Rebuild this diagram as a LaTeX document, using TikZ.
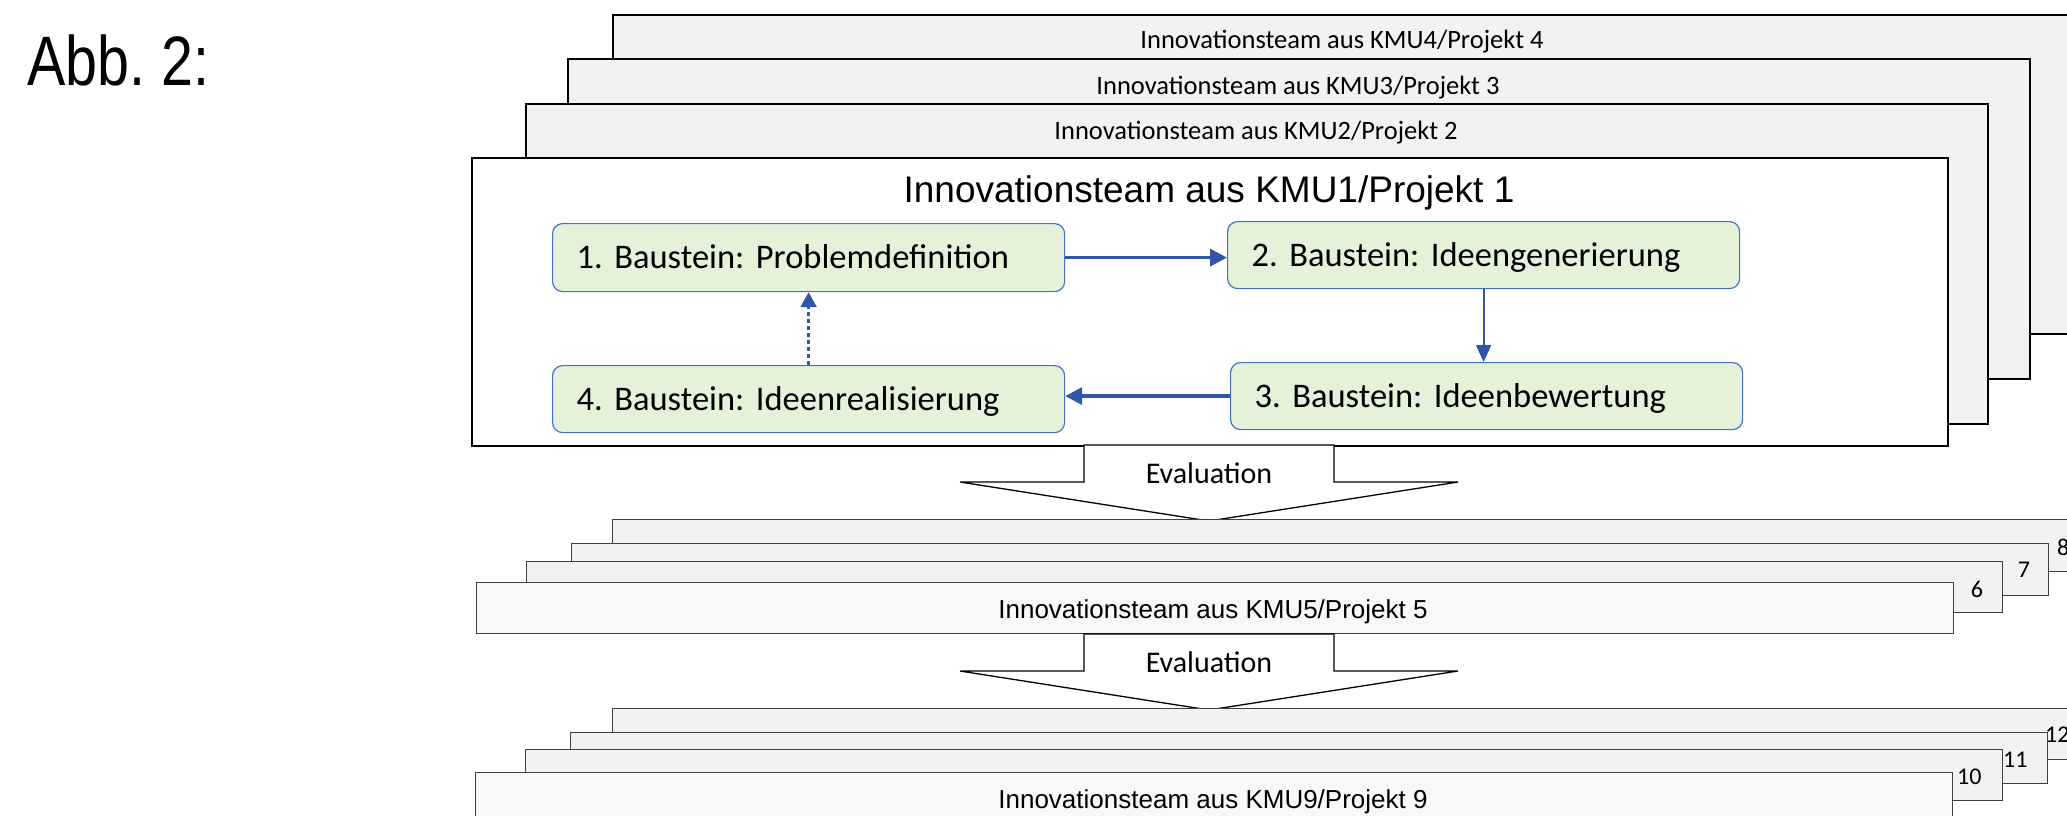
\documentclass[tikz,border=0pt]{standalone}
\usepackage{fontspec}
\setmainfont{Carlito}
\newfontfamily\arialf{Liberation Sans}
\newfontfamily\narrowf[FakeStretch=0.82]{Liberation Sans}
\usetikzlibrary{arrows.meta}
\definecolor{stripfill}{HTML}{F2F2F2}
\definecolor{frontfill}{HTML}{F8F8F8}
\definecolor{greenfill}{HTML}{E5F2DA}
\definecolor{boxblue}{HTML}{4472C4}
\definecolor{arrblue}{HTML}{3155A8}
\definecolor{darkline}{HTML}{404040}
\frenchspacing
\begin{document}
\begin{tikzpicture}[x=1pt,y=-1pt,
  topstrip/.style={draw=black, line width=2.2pt, fill=stripfill, inner sep=0pt, anchor=north west},
  lowstrip/.style={draw=darkline, line width=1.3pt, fill=stripfill, inner sep=0pt, anchor=north west},
  stepbox/.style={draw=boxblue, line width=1.2pt, fill=greenfill, rounded corners=10pt,
     anchor=north west, minimum height=67pt, text width=464pt, align=left,
     inner xsep=24pt, inner ysep=0pt, text height=22pt, text depth=0pt,
     font=\fontsize{34.5}{40}\selectfont\frenchspacing},
  striptitle/.style={anchor=base, inner sep=0pt, font=\fontsize{26.5}{32}\selectfont},
  numlabel/.style={inner sep=0pt, font=\fontsize{24}{28}\selectfont},
  evaltext/.style={anchor=base, inner sep=0pt, font=\fontsize{30}{36}\selectfont},
  arialtitle/.style={anchor=base, inner sep=0pt, font=\arialf\fontsize{26}{31}\selectfont},
  flow/.style={draw=arrblue, line width=3.5pt, -{Triangle[length=17pt,width=17pt]}},
  flowthin/.style={draw=arrblue, line width=2pt, -{Triangle[length=17pt,width=15pt]}},
  flowdot/.style={draw=arrblue, line width=2.5pt, dash pattern=on 4pt off 3pt, -{Triangle[length=15pt,width=16pt]}},
  evalarrow/.style={draw=black, line width=1.3pt, fill=white, line join=miter}
]
\useasboundingbox (0,0) rectangle (2067,815);
\clip (0,0) rectangle (2067,815);

% heading
\node[anchor=base west, inner sep=0pt, font=\narrowf\fontsize{70}{84}\selectfont] (abb) at (27,85) {Abb. 2:};

% top stack
\node[topstrip, minimum width=1460pt, minimum height=319pt] (k4) at (612,14) {};
\node[striptitle] (t4) at (1342,48) {Innovationsteam aus KMU4/Projekt 4};
\node[topstrip, minimum width=1462pt, minimum height=320pt] (k3) at (567,58) {};
\node[striptitle] (t3) at (1298,94) {Innovationsteam aus KMU3/Projekt 3};
\node[topstrip, minimum width=1462pt, minimum height=320pt] (k2) at (525,103) {};
\node[striptitle] (t2) at (1256,139) {Innovationsteam aus KMU2/Projekt 2};
\node[topstrip, fill=white, minimum width=1476pt, minimum height=288pt] (k1) at (471,157) {};
\node[anchor=base, inner sep=0pt, font=\arialf\fontsize{37}{44}\selectfont] (t1) at (1209,202) {Innovationsteam aus KMU1/Projekt 1};

% building blocks
\node[stepbox, minimum height=68pt] (b1) at (552,223) {1. Baustein: Problemdefinition};
\node[stepbox] (b2) at (1227,221) {2. Baustein: Ideengenerierung};
\node[stepbox] (b3) at (1230,362) {3. Baustein: Ideenbewertung};
\node[stepbox] (b4) at (552,365) {4. Baustein: Ideenrealisierung};

\draw[flow] (b1.east) -- (b1.east -| b2.west);
\draw[flowthin] (b2.south) -- (b2.south |- b3.north);
\draw[flow] (b3.west) -- (b3.west -| b4.east);
\draw[flowdot] (b4.north) -- (b1.south);

% first evaluation arrow
\draw[evalarrow] (1084,445) -- (1084,482) -- (960,482) -- (1209,521) -- (1458,482) -- (1334,482) -- (1334,445) -- cycle;
\node[evaltext] (e1) at (1209,483) {Evaluation};

% second stack
\node[lowstrip, minimum width=1490pt, minimum height=52pt] (k8) at (612,519) {};
\node[lowstrip, minimum width=1477pt, minimum height=52pt] (k7) at (571,543) {};
\node[lowstrip, minimum width=1476pt, minimum height=51pt] (k6) at (526,561) {};
\node[lowstrip, fill=frontfill, minimum width=1477pt, minimum height=51pt] (k5) at (476,582) {};
\node[arialtitle] (t5) at (1213,618) {Innovationsteam aus KMU5/Projekt 5};
\node[numlabel] (n6) at (1977,589) {6};
\node[numlabel] (n7) at (2024,570) {7};
\node[numlabel, anchor=west] (n8) at (2057,547) {8};

% second evaluation arrow
\draw[evalarrow] (1084,634) -- (1084,671) -- (960,671) -- (1209,710) -- (1458,671) -- (1334,671) -- (1334,634) -- cycle;
\node[evaltext] (e2) at (1209,672) {Evaluation};

% third stack
\node[lowstrip, minimum width=1490pt, minimum height=51pt] (k12) at (612,708) {};
\node[lowstrip, minimum width=1477pt, minimum height=51pt] (k11) at (570,732) {};
\node[lowstrip, minimum width=1477pt, minimum height=51pt] (k10) at (525,749) {};
\node[lowstrip, fill=frontfill, minimum width=1477pt, minimum height=51pt] (k9) at (475,772) {};
\node[arialtitle] (t9) at (1213,808) {Innovationsteam aus KMU9/Projekt 9};
\node[numlabel, anchor=west] (n10) at (1957,777) {10};
\node[numlabel, anchor=west] (n11) at (2003,760) {11};
\node[numlabel, anchor=west] (n12) at (2045,735) {12};
\end{tikzpicture}
\end{document}
